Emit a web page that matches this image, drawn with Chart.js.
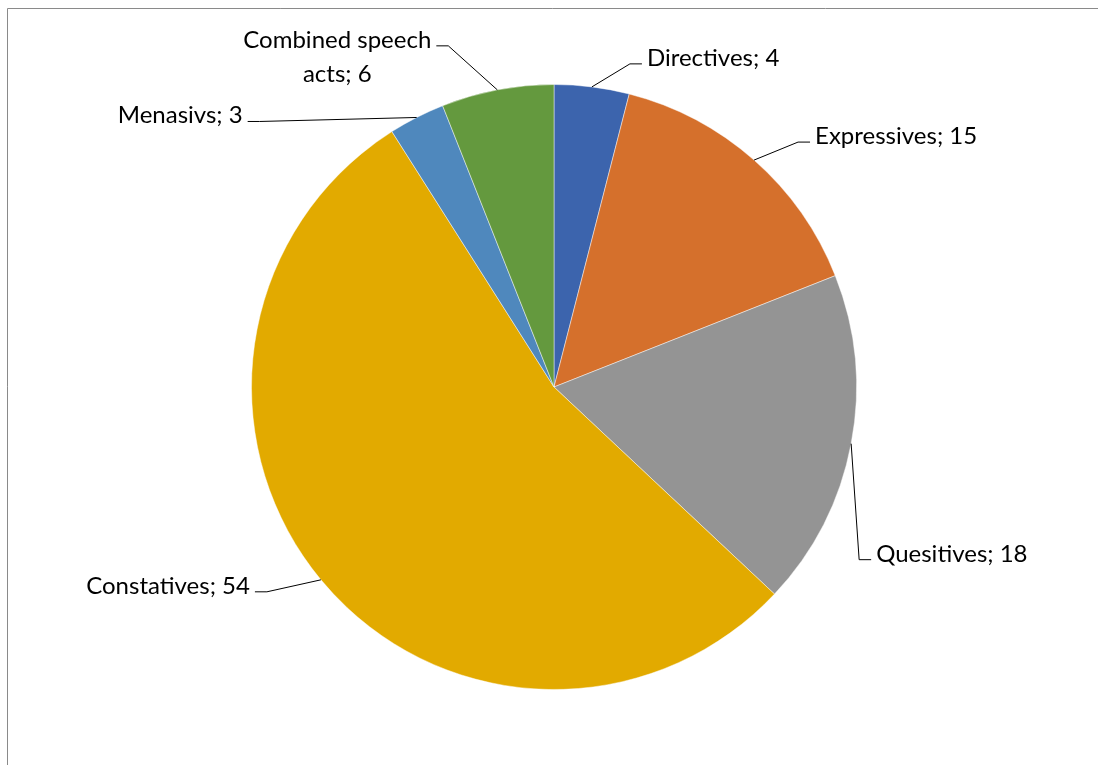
<!DOCTYPE html>
<html>
<head>
<meta charset="utf-8">
<script src="https://cdn.jsdelivr.net/npm/chart.js@4"></script>
<style>
  body { margin: 0; background: #fff; }
  #wrap { width: 1098px; height: 765px; position: relative; }
</style>
</head>
<body>
<div id="wrap"><canvas id="pie" width="1098" height="765"></canvas></div>
<script>
// datos del gráfico
const categorias = ['Directives', 'Expressives', 'Quesitives', 'Constatives', 'Menasivs', 'Combined speech acts'];
const valores = [4, 15, 18, 54, 3, 6];
const colores = ['#3c64ad', '#d5702c', '#949494', '#e2aa00', '#4f88bd', '#64993e'];

// textos de las etiquetas (cada línea por separado)
const textosEtiquetas = [
  ['Directives; 4'],
  ['Expressives; 15'],
  ['Quesitives; 18'],
  ['Constatives; 54'],
  ['Menasivs; 3'],
  ['Combined speech', 'acts; 6']
];

// dónde se dobla la línea guía, relativo al borde de la porción (como etiquetas movidas a mano en Excel)
const codos = [
  { dx: 38, dy: -23, lado: 'der' },
  { dx: 44, dy: -18, lado: 'der' },
  { dx: 8, dy: 116, lado: 'der' },
  { dx: -54, dy: 12, lado: 'izq' },
  { dx: -157, dy: 4, lado: 'izq' },
  { dx: -49, dy: -44, lado: 'izq' }
];

const FUENTE = '24px Lato';

// marco gris del área del gráfico (recortado por la ventana)
const marco = {
  id: 'marco',
  beforeDraw(chart) {
    const ctx = chart.ctx;
    ctx.save();
    ctx.strokeStyle = '#8a8a8a';
    ctx.lineWidth = 1;
    ctx.beginPath();
    ctx.moveTo(7.5, 765);
    ctx.lineTo(7.5, 8.5);
    ctx.lineTo(1098, 8.5);
    ctx.stroke();
    ctx.restore();
  }
};

// etiquetas con líneas guía
const etiquetas = {
  id: 'etiquetas',
  afterDatasetsDraw(chart) {
    const ctx = chart.ctx;
    const meta = chart.getDatasetMeta(0);
    ctx.save();
    ctx.font = FUENTE;
    ctx.fillStyle = '#000';
    ctx.strokeStyle = '#000';
    ctx.lineWidth = 1;
    meta.data.forEach((arco, i) => {
      const p = arco.getProps(['x', 'y', 'startAngle', 'endAngle', 'outerRadius'], true);
      const medio = (p.startAngle + p.endAngle) / 2;
      const ex = p.x + Math.cos(medio) * p.outerRadius;
      const ey = p.y + Math.sin(medio) * p.outerRadius;
      const c = codos[i];
      const cx = ex + c.dx;
      const cy = ey + c.dy;
      const sign = c.lado === 'der' ? 1 : -1;
      const fx = cx + sign * 12;

      ctx.beginPath();
      ctx.moveTo(ex, ey);
      ctx.lineTo(cx, cy);
      ctx.lineTo(fx, cy);
      ctx.stroke();

      const lineas = textosEtiquetas[i];
      const anchos = lineas.map(t => ctx.measureText(t).width);
      const maxAncho = Math.max(...anchos);
      const tx = fx + sign * 5;
      const centro = c.lado === 'der' ? tx + maxAncho / 2 : tx - maxAncho / 2;
      ctx.textAlign = 'center';
      ctx.textBaseline = 'alphabetic';
      lineas.forEach((t, k) => {
        ctx.fillText(t, centro, cy + 2 + k * 34);
      });
    });
    ctx.restore();
  }
};

new Chart(document.getElementById('pie'), {
  type: 'pie',
  data: {
    labels: categorias,
    datasets: [{
      data: valores,
      backgroundColor: colores,
      borderColor: 'rgba(255,255,255,0.45)',
      borderWidth: 1
    }]
  },
  options: {
    responsive: false,
    animation: false,
    layout: { padding: { top: 84, bottom: 75, left: 251, right: 241 } },
    plugins: {
      legend: { display: false },
      tooltip: { enabled: false }
    }
  },
  plugins: [marco, etiquetas]
});
</script>
</body>
</html>
